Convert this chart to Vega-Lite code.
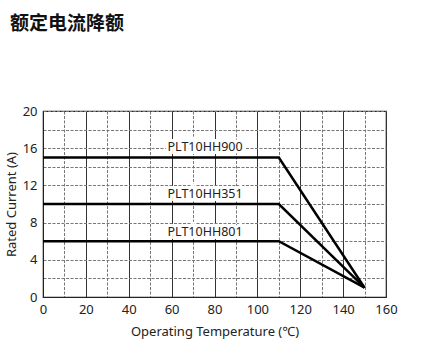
{
  "$schema": "https://vega.github.io/schema/vega-lite/v6.json",
  "autosize": "none",
  "width": 343,
  "height": 186,
  "padding": {"left": 43, "top": 111, "right": 60, "bottom": 54},
  "background": "white",
  "title": {
    "text": "额定电流降额",
    "anchor": "start",
    "frame": "group",
    "offset": 71,
    "dx": -33,
    "font": "Noto Sans CJK SC",
    "fontSize": 19,
    "fontWeight": "bold",
    "color": "#111"
  },
  "config": {
    "view": {"stroke": "#222", "strokeWidth": 1.2},
    "axis": {
      "labelFont": "Noto Sans",
      "titleFont": "Noto Sans",
      "labelFontSize": 13,
      "titleFontSize": 13,
      "titleFontWeight": "normal",
      "labelColor": "#222",
      "titleColor": "#222",
      "ticks": false,
      "domainColor": "#222",
      "labelOverlap": false,
      "labelBound": false,
      "labelFlush": false
    }
  },
  "datasets": {
    "curves": [
      {"series": "PLT10HH900", "temp": 0, "current": 15},
      {"series": "PLT10HH900", "temp": 110, "current": 15},
      {"series": "PLT10HH900", "temp": 150, "current": 1},
      {"series": "PLT10HH351", "temp": 0, "current": 10},
      {"series": "PLT10HH351", "temp": 110, "current": 10},
      {"series": "PLT10HH351", "temp": 150, "current": 1},
      {"series": "PLT10HH801", "temp": 0, "current": 6},
      {"series": "PLT10HH801", "temp": 110, "current": 6},
      {"series": "PLT10HH801", "temp": 150, "current": 1}
    ],
    "labels": [
      {"series": "PLT10HH900", "temp": 75.6, "current": 16.1},
      {"series": "PLT10HH351", "temp": 75.6, "current": 11.1},
      {"series": "PLT10HH801", "temp": 75.6, "current": 7.0}
    ]
  },
  "layer": [
    {
      "data": {"name": "curves"},
      "mark": {"type": "line", "color": "#000", "strokeWidth": 2.5, "opacity": 0},
      "encoding": {
        "x": {
          "field": "temp",
          "type": "quantitative",
          "scale": {"domain": [0, 160], "nice": false},
          "title": "Operating Temperature (℃)",
          "axis": {
            "values": [0, 10, 20, 30, 40, 50, 60, 70, 80, 90, 100, 110, 120, 130, 140, 150, 160],
            "tickCount": 100,
            "format": "d",
            "labelExpr": "datum.value % 20 === 0 ? datum.label : ''",
            "labelPadding": 6,
            "titlePadding": 9,
            "grid": true,
            "gridColor": {"condition": {"test": "datum.value % 20 === 0", "value": "#333"}, "value": "#777"},
            "gridDash": {"condition": {"test": "datum.value % 20 === 0", "value": []}, "value": [3, 1.5]},
            "gridOpacity": 1,
            "gridWidth": 1
          }
        },
        "y": {
          "field": "current",
          "type": "quantitative",
          "scale": {"domain": [0, 20], "nice": false},
          "title": "Rated Current (A)",
          "axis": {
            "values": [0, 2, 4, 6, 8, 10, 12, 14, 16, 18, 20],
            "tickCount": 100,
            "format": "d",
            "labelExpr": "datum.value % 4 === 0 ? datum.label : ''",
            "labelPadding": 6,
            "titlePadding": 4,
            "grid": true,
            "gridColor": "#777",
            "gridDash": [3, 1.5],
            "gridOpacity": 1,
            "gridWidth": 1
          }
        }
      }
    },
    {
      "data": {"name": "labels"},
      "mark": {"type": "text", "font": "Noto Sans", "fontSize": 12.5, "stroke": "white", "strokeWidth": 6, "color": "white", "align": "center", "baseline": "middle"},
      "encoding": {
        "x": {"field": "temp", "type": "quantitative"},
        "y": {"field": "current", "type": "quantitative"},
        "text": {"field": "series"}
      }
    },
    {
      "data": {"name": "labels"},
      "mark": {"type": "text", "font": "Noto Sans", "fontSize": 12.5, "color": "#222", "align": "center", "baseline": "middle"},
      "encoding": {
        "x": {"field": "temp", "type": "quantitative"},
        "y": {"field": "current", "type": "quantitative"},
        "text": {"field": "series"}
      }
    },
    {
      "data": {"name": "curves"},
      "mark": {"type": "line", "color": "#000", "strokeWidth": 2.5},
      "encoding": {
        "x": {"field": "temp", "type": "quantitative"},
        "y": {"field": "current", "type": "quantitative"},
        "detail": {"field": "series"}
      }
    }
  ]
}
